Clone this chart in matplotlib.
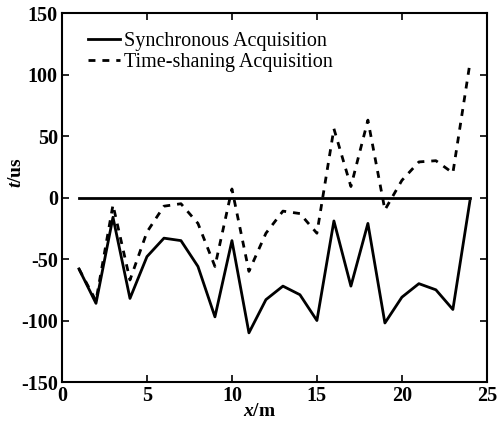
import matplotlib.pyplot as plt

plt.rcParams['font.family'] = 'Liberation Serif'
plt.rcParams['mathtext.fontset'] = 'custom'
plt.rcParams['mathtext.rm'] = 'Liberation Serif:bold'
plt.rcParams['mathtext.it'] = 'Liberation Serif:italic:bold'
plt.rcParams['mathtext.bf'] = 'Liberation Serif:bold'
plt.rcParams['axes.unicode_minus'] = False

# measuring points along the line (m)
x = list(range(1, 25))

# time offset, synchronous acquisition (us)
sync = [-58, -86, -16, -82, -48, -33, -35, -56, -97, -35, -110, -83,
        -72, -79, -100, -19, -72, -21, -102, -81, -70, -75, -91, -3]

# time offset, time-sharing acquisition (us)
shared = [-58, -84, -6, -67, -28, -7, -5, -21, -56, 7, -60, -29,
          -11, -13, -29, 56, 9, 63, -10, 14, 29, 30, 20, 109]

zero = [0] * len(x)

fig = plt.figure(figsize=(5.04, 4.24), dpi=100)
ax = fig.add_axes([0.123, 0.099, 0.843, 0.870])

ax.plot(x, zero, color='black', lw=2)
ax.plot(x, sync, color='black', lw=2, label='Synchronous Acquisition')
ax.plot(x, shared, color='black', lw=2, ls=(0, (2.5, 2.5)),
        label='Time-shaning Acquisition')

ax.set_xlim(0, 25)
ax.set_ylim(-150, 150)
ax.set_xticks([0, 5, 10, 15, 20, 25])
ax.set_yticks([-150, -100, -50, 0, 50, 100, 150])
ax.tick_params(direction='in', top=True, right=True, length=5, width=1.2,
               labelsize=14.5, pad=3)
for lab in ax.get_xticklabels() + ax.get_yticklabels():
    lab.set_fontweight('bold')
for s in ax.spines.values():
    s.set_linewidth(1.5)

ax.set_xlabel(r'$x$/m', fontsize=14, fontweight='bold')
ax.set_ylabel(r'$t$/us', fontsize=14, fontweight='bold')
ax.xaxis.set_label_coords(0.466, -0.058)
ax.yaxis.set_label_coords(-0.088, 0.569)

ax.legend(loc='upper left', bbox_to_anchor=(0.061, 0.949), frameon=False,
          fontsize=14.5, handlelength=1.6, handletextpad=0.2,
          borderaxespad=0, borderpad=0, labelspacing=0.1)

fig.savefig('out.png', dpi=100)
